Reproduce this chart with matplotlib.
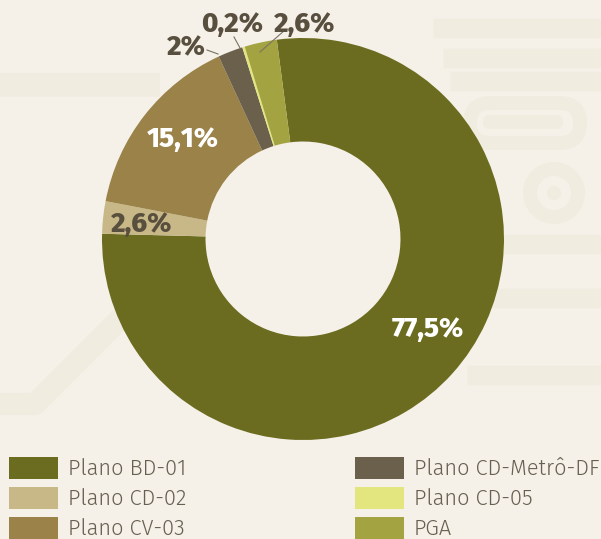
import matplotlib
matplotlib.use('Agg')
import matplotlib.pyplot as plt
from matplotlib.patches import Circle, FancyBboxPatch

plt.rcParams['font.family'] = ['Fira Sans', 'Open Sans', 'DejaVu Sans']

labels = ['Plano BD-01', 'Plano CD-02', 'Plano CV-03',
          'Plano CD-Metrô-DF', 'Plano CD-05', 'PGA']
values = [77.5, 2.6, 15.1, 2.0, 0.2, 2.6]
value_text = ['77,5%', '2,6%', '15,1%', '2%', '0,2%', '2,6%']
colors = ['#6b6c1f', '#c9b887', '#9a8248', '#6a604b', '#e3e67e', '#a3a441']

bg = '#f5f1e9'
deco = '#f0ece0'
dark = '#584f3e'

W, H = 601, 539
fig = plt.figure(figsize=(W / 100, H / 100), dpi=100, facecolor=bg)
ax = fig.add_axes([0, 0, 1, 1])
ax.set_facecolor(bg)

# faint circuit-like background decoration
ax.plot([0, 160], [454, 454], color=deco, lw=17, solid_capstyle='butt', zorder=0)
ax.plot([0, 35, 200], [135, 135, 300], color=deco, lw=16, solid_capstyle='butt', zorder=0)
for y0, x0 in [(511, 433), (481, 443), (458, 450), (295, 490), (241, 450), (164, 467)]:
    ax.plot([x0, W], [y0, y0], color=deco, lw=14, solid_capstyle='butt', zorder=0)
ax.add_patch(FancyBboxPatch((470, 396), 110, 40, boxstyle='round,pad=0,rounding_size=20',
                            fc='none', ec=deco, lw=10, zorder=0))
ax.add_patch(FancyBboxPatch((483, 410), 80, 14, boxstyle='round,pad=0,rounding_size=7',
                            fc=deco, ec='none', zorder=0))
ax.add_patch(Circle((554, 346), 24, fc='none', ec=deco, lw=10, zorder=0))
ax.add_patch(Circle((554, 346), 7, fc=deco, ec='none', zorder=0))

cx, cy, R = 303, 300, 201
wedges, _ = ax.pie(values, colors=colors, startangle=97.5, counterclock=False,
                   center=(cx, cy), radius=R,
                   wedgeprops=dict(width=R * 0.515, edgecolor='none'))
ax.set_xlim(0, W)
ax.set_ylim(0, H)
ax.set_aspect('equal')
ax.axis('off')

fs = 20
wt = 800
# labels inside the wedges
ax.text(428, H - 337, value_text[0], color='white', fontsize=fs, fontweight=wt,
        ha='center', va='baseline')
ax.text(183, H - 147, value_text[2], color='white', fontsize=fs, fontweight=wt,
        ha='center', va='baseline')
ax.text(142, H - 232, value_text[1], color=dark, fontsize=fs, fontweight=wt,
        ha='center', va='baseline')

# small slices with leader lines
ax.text(186, H - 55, value_text[3], color=dark, fontsize=fs, fontweight=wt,
        ha='center', va='baseline')
ax.plot([207, 218], [H - 50, H - 54], color='#7a7263', lw=0.8)
ax.text(232, H - 32, value_text[4], color=dark, fontsize=fs, fontweight=wt,
        ha='center', va='baseline')
ax.plot([234, 240], [H - 37, H - 48], color='#7a7263', lw=0.8)
ax.text(305, H - 32, value_text[5], color=dark, fontsize=fs, fontweight=wt,
        ha='center', va='baseline')
ax.plot([285, 260], [H - 30, H - 52], color='#7a7263', lw=0.8)

# legend in two columns
leg_kw = dict(loc='upper left', bbox_transform=fig.transFigure, frameon=False,
              prop=dict(family=['Fira Sans', 'Open Sans'], weight=300, size=15.7),
              handlelength=2.25, handleheight=1.15, handletextpad=0.46,
              labelspacing=0.34, borderaxespad=0, borderpad=0)
leg1 = ax.legend(wedges[:3], labels[:3], bbox_to_anchor=(9 / W, 1 - 457 / H), **leg_kw)
ax.add_artist(leg1)
leg2 = ax.legend(wedges[3:], labels[3:], bbox_to_anchor=(355 / W, 1 - 457 / H), **leg_kw)
for lg in (leg1, leg2):
    for t in lg.get_texts():
        t.set_color('#675f50')

fig.savefig('out.png', dpi=100, facecolor=bg)
